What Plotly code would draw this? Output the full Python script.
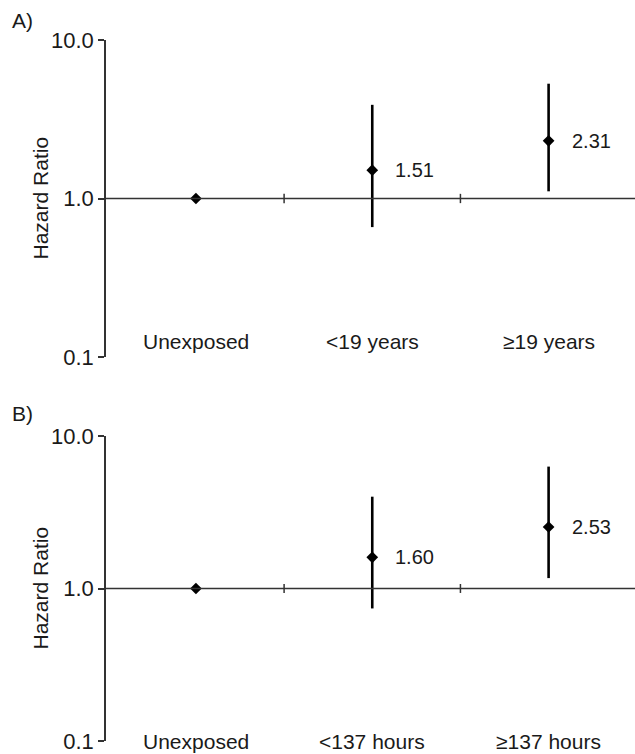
import math
import plotly.graph_objects as go

# ---- data ----
categories_a = ["Unexposed", "<19 years", "\u226519 years"]
hr_a = [1.00, 1.51, 2.31]
ci_low_a = [1.00, 0.66, 1.11]
ci_high_a = [1.00, 3.90, 5.30]
labels_a = ["", "1.51", "2.31"]

categories_b = ["Unexposed", "<137 hours", "\u2265137 hours"]
hr_b = [1.00, 1.60, 2.53]
ci_low_b = [1.00, 0.74, 1.17]
ci_high_b = [1.00, 4.00, 6.30]
labels_b = ["", "1.60", "2.53"]

y_tickvals = [0.1, 1, 10]
y_ticktext = ["0.1", "1.0", "10.0"]
panel_titles = ["A)", "B)"]

FONT = "Liberation Sans, Arial, Helvetica, sans-serif"
TXT = "#1a1a1a"
LINE = "#333333"

W, H = 635, 754
L = 106
fig = go.Figure()

panels = [
    dict(cats=categories_a, hr=hr_a, lo=ci_low_a, hi=ci_high_a, lab=labels_a,
         xa="x", ya="y", dom=[1 - 357 / H, 1 - 40 / H], caty=0.05, title_y=1 - 20 / H),
    dict(cats=categories_b, hr=hr_b, lo=ci_low_b, hi=ci_high_b, lab=labels_b,
         xa="x2", ya="y2", dom=[1 - 741 / H, 1 - 436 / H], caty=0.0, title_y=1 - 413 / H),
]

shapes = []
annotations = []
for p_i, p in enumerate(panels):
    n = len(p["cats"])
    xs = list(range(n))
    fig.add_trace(go.Scatter(
        x=xs, y=p["hr"], mode="markers",
        marker=dict(symbol="diamond", size=9, color="black"),
        error_y=dict(type="data", symmetric=False,
                     array=[h - m for h, m in zip(p["hi"], p["hr"])],
                     arrayminus=[m - l for m, l in zip(p["hr"], p["lo"])],
                     thickness=2.6, width=0, color="black"),
        xaxis=p["xa"], yaxis=p["ya"], showlegend=False, hoverinfo="skip"))
    xr = p["xa"]
    yr = p["ya"]
    # horizontal reference line at HR = 1
    shapes.append(dict(type="line", xref=xr + " domain", yref=yr, x0=0, x1=1, y0=1, y1=1,
                       line=dict(color=LINE, width=1.5)))
    # category boundary ticks
    for b in range(n):
        bx = b + 0.5
        shapes.append(dict(type="line", xref=xr, yref=yr, x0=bx, x1=bx, y0=0.935, y1=1.07,
                           line=dict(color=LINE, width=1.5)))
    # value labels (annotation y on log axis is log10)
    for i, (m, t) in enumerate(zip(p["hr"], p["lab"])):
        if t:
            annotations.append(dict(x=i, y=math.log10(m), xref=xr, yref=yr, text=t,
                                    showarrow=False, xanchor="left", yanchor="middle",
                                    xshift=21, font=dict(size=20, color=TXT, family=FONT)))
    # category labels
    for i, c in enumerate(p["cats"]):
        annotations.append(dict(x=i, y=p["caty"], xref=xr, yref=yr + " domain", text=c,
                                showarrow=False, xanchor="center", yanchor="middle",
                                font=dict(size=21, color=TXT, family=FONT)))
    # y title
    annotations.append(dict(x=(40 - L) / (W - L), y=sum(p["dom"]) / 2, xref="paper", yref="paper",
                            text="Hazard Ratio", textangle=-90, showarrow=False,
                            xanchor="center", yanchor="middle",
                            font=dict(size=21, color=TXT, family=FONT)))
    # panel title
    annotations.append(dict(x=(10 - L) / (W - L), y=p["title_y"], xref="paper", yref="paper",
                            text=panel_titles[p_i], showarrow=False,
                            xanchor="left", yanchor="middle",
                            font=dict(size=21, color=TXT, family=FONT)))

xaxis_common = dict(range=[-0.51, 2.49], visible=False, domain=[0, 1])
yaxis_common = dict(type="log", range=[-1, 1], tickvals=y_tickvals, ticktext=y_ticktext,
                    showline=True, linecolor=LINE, linewidth=1.5, ticks="outside",
                    ticklen=6, tickwidth=1.5, tickcolor=LINE, showgrid=False, zeroline=False,
                    automargin=False,
                    tickfont=dict(size=22, color=TXT, family=FONT))

fig.update_layout(
    width=W, height=H,
    margin=dict(l=L, r=0, t=0, b=0),
    paper_bgcolor="white", plot_bgcolor="white",
    xaxis=dict(**xaxis_common, anchor="y"),
    xaxis2=dict(**xaxis_common, anchor="y2"),
    yaxis=dict(**yaxis_common, domain=panels[0]["dom"], anchor="x"),
    yaxis2=dict(**yaxis_common, domain=panels[1]["dom"], anchor="x2"),
    shapes=shapes,
    annotations=annotations,
)

fig.write_html("out.html",
               config={"displayModeBar": False},
               post_script="document.body.style.margin='0';document.body.style.overflow='hidden';")
